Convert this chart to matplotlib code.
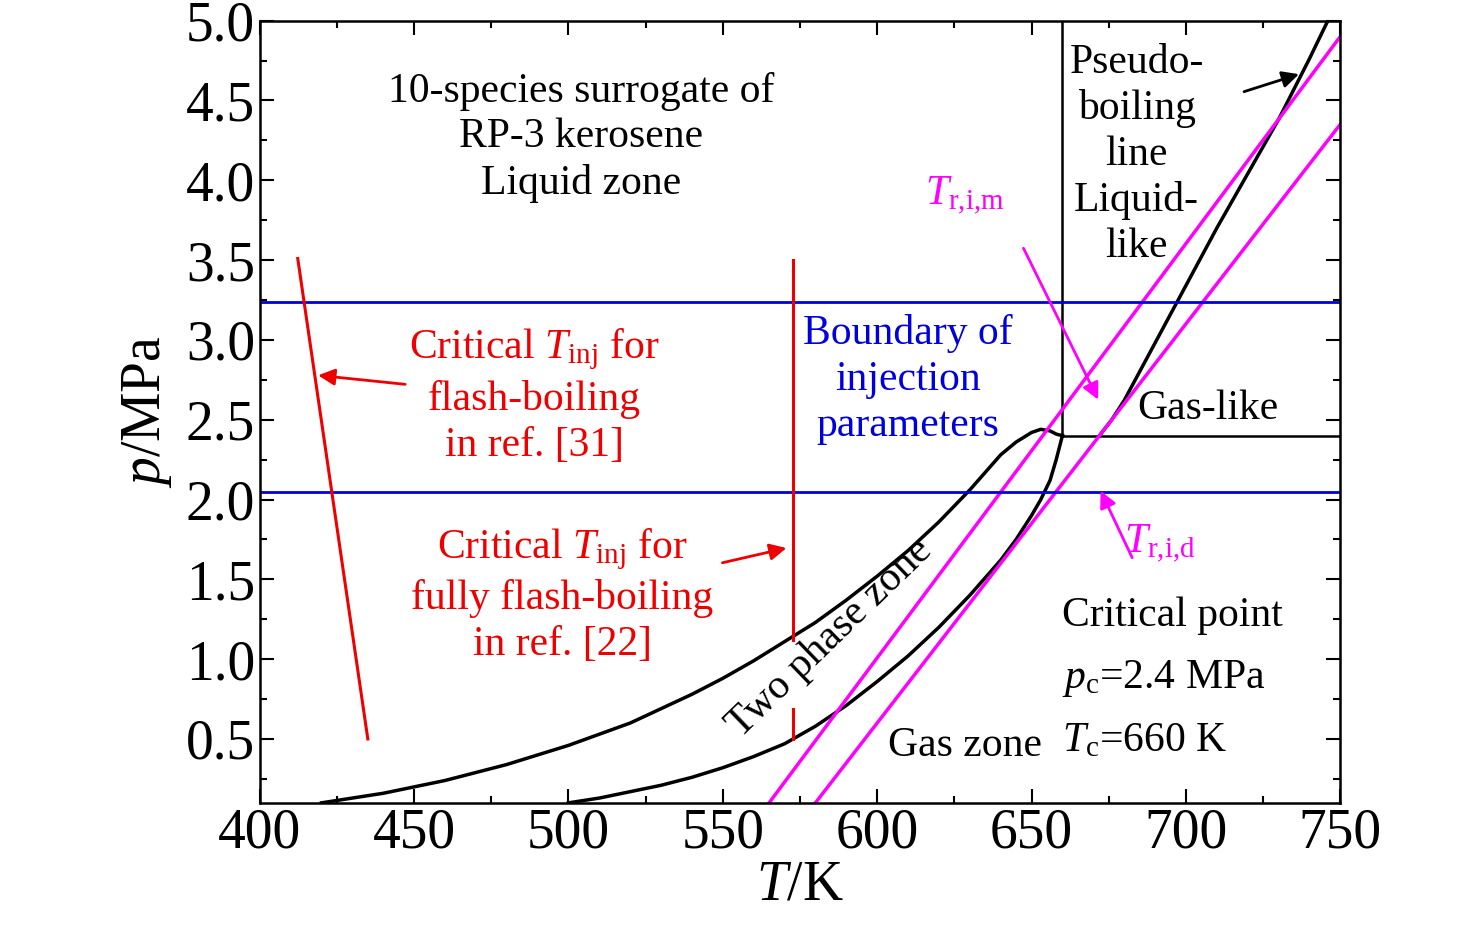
import numpy as np
import matplotlib.pyplot as plt
from matplotlib.ticker import MultipleLocator

plt.rcParams['font.family'] = ['Liberation Serif', 'DejaVu Serif']
plt.rcParams['mathtext.fontset'] = 'custom'
plt.rcParams['mathtext.rm'] = 'Liberation Serif'
plt.rcParams['mathtext.it'] = 'Liberation Serif:italic'

# bubble (upper) and dew (lower) branches of the two-phase envelope
bub_T = [420, 430, 440, 450, 460, 470, 480, 490, 500, 510, 520, 530, 540, 550, 560, 570, 580,
         590, 600, 610, 620, 630, 640, 645, 650, 653, 656, 658, 660]
bub_p = [0.10, 0.13, 0.16, 0.20, 0.24, 0.29, 0.34, 0.40, 0.46, 0.53, 0.60, 0.69, 0.78, 0.88,
         0.99, 1.11, 1.23, 1.37, 1.52, 1.68, 1.86, 2.06, 2.28, 2.36, 2.42, 2.44, 2.43, 2.41, 2.40]
dew_T = [500, 510, 520, 530, 540, 550, 560, 570, 580, 590, 600, 610, 620, 630, 640, 645, 650,
         653, 656, 658, 660]
dew_p = [0.10, 0.13, 0.17, 0.21, 0.26, 0.32, 0.39, 0.47, 0.58, 0.71, 0.86, 1.02, 1.20, 1.40,
         1.62, 1.75, 1.90, 2.00, 2.12, 2.25, 2.40]
# pseudo-boiling line
pb_T = [672, 676, 680, 685, 690, 700, 710, 720, 730, 740, 746]
pb_p = [2.40, 2.50, 2.62, 2.80, 2.98, 3.34, 3.70, 4.04, 4.38, 4.76, 5.00]
# injection temperature lines
trim_T = [565, 750]
trim_p = [0.10, 4.90]
trid_T = [580, 750]
trid_p = [0.10, 4.35]
# boundary of injection parameters
p_bounds = [2.05, 3.24]
# critical point
Tc, pc = 660, 2.4
# critical Tinj references
ref31_T = [412.3, 435]
ref31_p = [3.51, 0.5]
ref22_T = 572.7

fig, ax = plt.subplots(figsize=(14.76, 9.39), dpi=100)
fig.subplots_adjust(left=0.176, right=0.908, bottom=0.145, top=0.978)

ax.plot(bub_T, bub_p, 'k-', lw=2.5)
ax.plot(dew_T, dew_p, 'k-', lw=2.5)
ax.plot(pb_T, pb_p, 'k-', lw=2.5)
ax.plot([Tc, 750], [pc, pc], 'k-', lw=1.8)
ax.plot([Tc, Tc], [pc, 5.0], 'k-', lw=1.8)
ax.plot(trim_T, trim_p, color='#ff00ff', lw=2.5)
ax.plot(trid_T, trid_p, color='#ff00ff', lw=2.5)
for pb in p_bounds:
    ax.axhline(pb, color='#0000dd', lw=2)
ax.plot(ref31_T, ref31_p, color='#ee0000', lw=2.2)
ax.plot([ref22_T, ref22_T], [3.5, 1.12], color='#ee0000', lw=2.2)
ax.plot([ref22_T, ref22_T], [0.69, 0.5], color='#ee0000', lw=2.2)

red = '#ee0000'
mag = '#ff00ff'
arr = dict(arrowstyle='-|>', lw=2, mutation_scale=25)
ax.annotate('', xy=(418, 2.78), xytext=(448, 2.72), arrowprops=dict(color=red, **arr))
ax.annotate('', xy=(571.5, 1.70), xytext=(549, 1.60), arrowprops=dict(color=red, **arr))
ax.annotate('', xy=(737.5, 4.67), xytext=(718, 4.55), arrowprops=dict(color='k', **arr))
ax.annotate('', xy=(672, 2.61), xytext=(647, 3.59), arrowprops=dict(color=mag, **arr))
ax.annotate('', xy=(672, 2.07), xytext=(683, 1.62), arrowprops=dict(color=mag, **arr))

fs = 30
ls = 1.25
ax.text(504, 4.27, '10-species surrogate of\nRP-3 kerosene\nLiquid zone', ha='center', va='center',
        fontsize=fs, linespacing=ls)
ax.text(489, 2.65, 'Critical $T_{\\rm inj}$ for\nflash-boiling\nin ref. [31]', ha='center', va='center',
        fontsize=fs, color=red, linespacing=ls)
ax.text(498, 1.40, 'Critical $T_{\\rm inj}$ for\nfully flash-boiling\nin ref. [22]', ha='center', va='center',
        fontsize=fs, color=red, linespacing=ls)
ax.text(610, 2.75, 'Boundary of\ninjection\nparameters', ha='center', va='center',
        fontsize=fs, color='#0000dd', linespacing=ls)
ax.text(684, 4.16, 'Pseudo-\nboiling\nline\nLiquid-\nlike', ha='center', va='center',
        fontsize=fs, linespacing=ls)
ax.text(707, 2.57, 'Gas-like', ha='center', va='center', fontsize=fs)
ax.text(628.5, 3.9, '$T_{\\rm r{,}i{,}m}$', ha='center', va='center', fontsize=fs, color=mag)
ax.text(691.7, 1.72, '$T_{\\rm r{,}i{,}d}$', ha='center', va='center', fontsize=fs, color=mag)
ax.text(584.7, 1.13, 'Two phase zone', ha='center', va='center', fontsize=fs, rotation=44)
ax.text(628.5, 0.46, 'Gas zone', ha='center', va='center', fontsize=fs)
ax.text(660, 1.27, 'Critical point', ha='left', va='center', fontsize=fs)
ax.text(660, 0.88, '$p_{\\rm c}$=2.4 MPa', ha='left', va='center', fontsize=fs)
ax.text(660, 0.49, '$T_{\\rm c}$=660 K', ha='left', va='center', fontsize=fs)

ax.set_xlim(400, 750)
ax.set_ylim(0.1, 5.0)
ax.xaxis.set_major_locator(MultipleLocator(50))
ax.xaxis.set_minor_locator(MultipleLocator(25))
ax.set_yticks([0.5, 1.0, 1.5, 2.0, 2.5, 3.0, 3.5, 4.0, 4.5, 5.0])
ax.yaxis.set_minor_locator(MultipleLocator(0.25))
ax.tick_params(which='both', direction='in', top=True, right=True, width=1.5, labelsize=40)
ax.tick_params(which='major', length=10)
ax.tick_params(which='minor', length=5)
for s in ax.spines.values():
    s.set_linewidth(1.8)
ax.set_xlabel('$T$/K', fontsize=40, labelpad=0)
ax.set_ylabel('$p$/MPa', fontsize=40, labelpad=8)

fig.savefig('out.png', dpi=100)
